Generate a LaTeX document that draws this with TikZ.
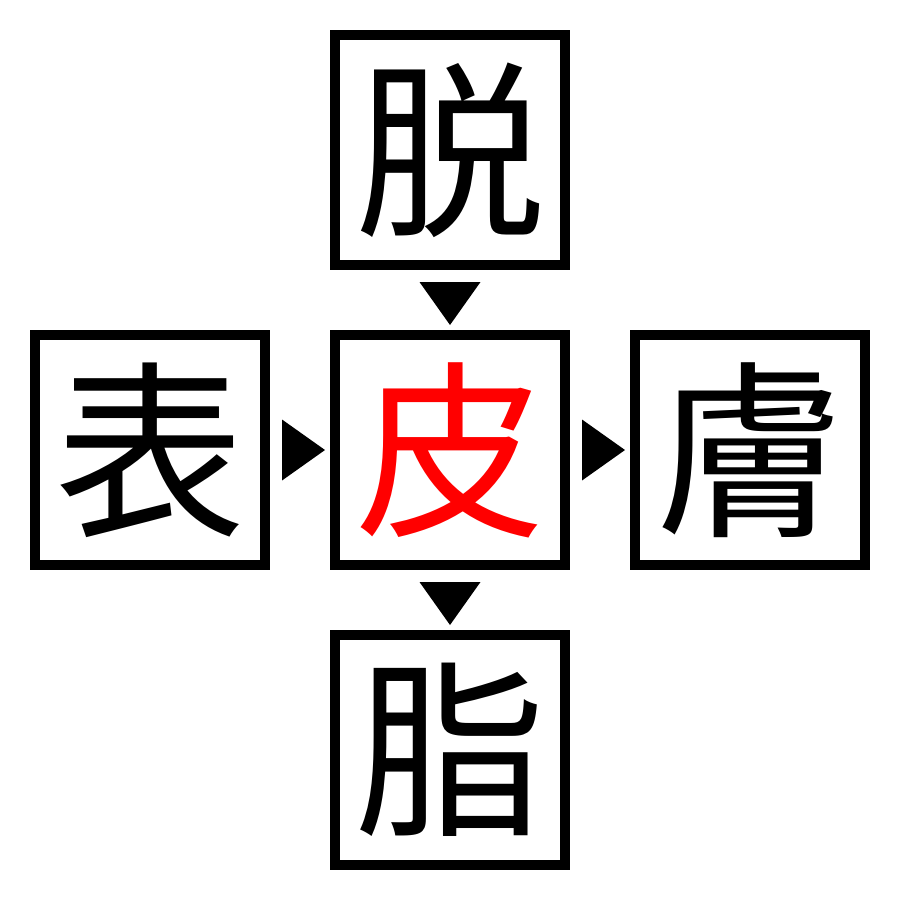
\documentclass[tikz,border=0pt]{standalone}
\usepackage{fontspec}
\usetikzlibrary{calc}
\newfontfamily\cjk{Noto Sans CJK JP}
\begin{document}
\begin{tikzpicture}[x=1pt,y=-1pt,
  kbox/.style={draw=black,line width=10pt,minimum size=230pt,inner sep=0pt,outer sep=0pt,
    font=\cjk\fontsize{190}{190}\selectfont},
  tri/.style={fill=black,draw=none}]
\useasboundingbox (0,0) rectangle (900,900);
\node[kbox] (top) at (450,150) {脱};
\node[kbox] (left) at (150,450) {表};
\node[kbox,text=red] (center) at (450,450) {皮};
\node[kbox] (right) at (750,450) {膚};
\node[kbox] (bottom) at (450,750) {脂};
% triangle markers between boxes
\fill[tri] ($(top.south)+(-30.5,17)$) -- ++(61,0) -- ++(-30.5,43) -- cycle;
\fill[tri] ($(center.south)+(-30.5,17)$) -- ++(61,0) -- ++(-30.5,43) -- cycle;
\fill[tri] ($(left.east)+(17,-30.5)$) -- ++(0,61) -- ++(43,-30.5) -- cycle;
\fill[tri] ($(center.east)+(17,-30.5)$) -- ++(0,61) -- ++(43,-30.5) -- cycle;
\end{tikzpicture}
\end{document}
